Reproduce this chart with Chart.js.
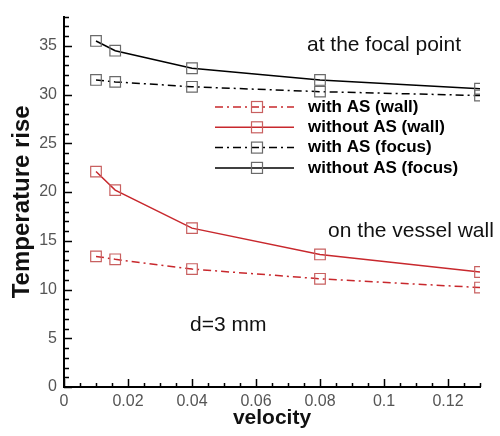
<!DOCTYPE html>
<html>
<head>
<meta charset="utf-8">
<title>Temperature rise vs velocity</title>
<script src="https://cdn.jsdelivr.net/npm/chart.js"></script>
<style>
  body { margin: 0; background: #fff; }
</style>
</head>
<body>
<canvas id="chart" width="500" height="436"></canvas>
<script>
// values
const velocity = [0.01, 0.016, 0.04, 0.08, 0.13];
const withAsWall = [13.4, 13.1, 12.1, 11.1, 10.2];
const withoutAsWall = [22.1, 20.2, 16.3, 13.6, 11.8];
const withAsFocus = [31.5, 31.3, 30.8, 30.3, 29.9];
const withoutAsFocus = [35.5, 34.5, 32.7, 31.5, 30.6];
const seriesNames = ['with AS (wall)', 'without AS (wall)', 'with AS (focus)', 'without AS (focus)'];
const xTicks = [0, 0.02, 0.04, 0.06, 0.08, 0.1, 0.12];
const yTicks = [0, 5, 10, 15, 20, 25, 30, 35];

const RED = '#c8282d';
const RED_MARK = '#c86060';
const BLACK = '#000';
const GRAY_MARK = '#6a6a6a';
const DASHDOT = [8, 4, 2, 4];
const FONT = '"Liberation Sans", Arial, sans-serif';

function pts(ys) {
  return velocity.map((v, i) => ({ x: v, y: ys[i] }));
}

function series(label, ys, color, markColor, dash) {
  return {
    label: label,
    data: pts(ys),
    borderColor: color,
    borderWidth: 1.5,
    borderDash: dash,
    pointStyle: 'rect',
    pointRadius: 7.5,
    pointBorderColor: markColor,
    pointBackgroundColor: 'rgba(0,0,0,0)',
    pointBorderWidth: 1.2,
    tension: 0,
    fill: false
  };
}

// ticks pointing into the plot, major + minor
const inwardTicks = {
  id: 'inwardTicks',
  afterDraw(chart) {
    const ctx = chart.ctx;
    const x = chart.scales.x, y = chart.scales.y;
    ctx.save();
    ctx.strokeStyle = '#000';
    ctx.lineWidth = 1.5;
    ctx.beginPath();
    for (let i = 0; i <= 26; i++) {
      const px = Math.round(x.getPixelForValue(i * 0.005)) + 0.5;
      const len = i % 4 === 0 ? 8 : 4;
      ctx.moveTo(px, y.bottom);
      ctx.lineTo(px, y.bottom - len);
    }
    for (let i = 0; i <= 38; i++) {
      const py = Math.round(y.getPixelForValue(i)) + 0.5;
      const len = i % 5 === 0 ? 8 : 5;
      ctx.moveTo(x.left, py);
      ctx.lineTo(x.left + len, py);
    }
    ctx.stroke();
    ctx.restore();
  }
};

// legend inside the plot and text notes
const notes = {
  id: 'notes',
  afterDraw(chart) {
    const ctx = chart.ctx;
    ctx.save();
    chart.data.datasets.forEach((ds, i) => {
      const yy = 107 + i * 20.3;
      ctx.strokeStyle = ds.borderColor;
      ctx.lineWidth = 1.5;
      ctx.setLineDash(ds.borderDash || []);
      ctx.beginPath();
      ctx.moveTo(215, yy);
      ctx.lineTo(294, yy);
      ctx.stroke();
      ctx.setLineDash([]);
      ctx.strokeStyle = ds.pointBorderColor;
      ctx.lineWidth = 1.2;
      ctx.strokeRect(251.5, yy - 5.5, 11, 11);
      ctx.fillStyle = '#000';
      ctx.font = 'bold 17px ' + FONT;
      ctx.textBaseline = 'middle';
      ctx.textAlign = 'left';
      ctx.fillText(ds.label, 308, yy);
    });
    ctx.font = '21px ' + FONT;
    ctx.fillStyle = '#111';
    ctx.textBaseline = 'middle';
    ctx.textAlign = 'center';
    ctx.fillText('at the focal point', 384, 45);
    ctx.fillText('on the vessel wall', 411, 231);
    ctx.textAlign = 'left';
    ctx.fillText('d=3 mm', 190, 325);
    ctx.restore();
  }
};

const tickFont = { family: FONT, size: 16 };

new Chart(document.getElementById('chart').getContext('2d'), {
  type: 'line',
  data: {
    datasets: [
      series(seriesNames[0], withAsWall, RED, RED_MARK, DASHDOT),
      series(seriesNames[1], withoutAsWall, RED, RED_MARK, []),
      series(seriesNames[2], withAsFocus, BLACK, GRAY_MARK, DASHDOT),
      series(seriesNames[3], withoutAsFocus, BLACK, GRAY_MARK, [])
    ]
  },
  options: {
    responsive: false,
    animation: false,
    layout: { padding: { top: 7, right: 20, left: 0, bottom: 0 } },
    plugins: {
      legend: { display: false },
      tooltip: { enabled: false }
    },
    scales: {
      x: {
        type: 'linear',
        min: 0,
        max: 0.13,
        afterBuildTicks: s => { s.ticks = xTicks.map(v => ({ value: v })); },
        afterFit: s => { s.height = 49; },
        grid: { display: false, drawTicks: false },
        border: { display: true, color: '#000', width: 2 },
        ticks: {
          font: tickFont,
          color: '#555',
          padding: 5,
          maxRotation: 0,
          callback: v => String(Math.round(v * 100) / 100)
        },
        title: {
          display: true,
          text: 'velocity',
          font: { family: FONT, size: 21, weight: 'bold' },
          color: '#111',
          padding: { top: 5, bottom: 5 }
        }
      },
      y: {
        min: 0,
        max: 38,
        afterBuildTicks: s => { s.ticks = yTicks.map(v => ({ value: v })); },
        afterFit: s => { s.width = 64; },
        grid: { display: false, drawTicks: false },
        border: { display: true, color: '#000', width: 2 },
        ticks: {
          font: tickFont,
          color: '#555',
          padding: 7
        },
        title: {
          display: true,
          text: 'Temperature rise',
          font: { family: FONT, size: 24, weight: 'bold' },
          color: '#111',
          padding: { top: 8, bottom: 8 }
        }
      }
    }
  },
  plugins: [inwardTicks, notes]
});
</script>
</body>
</html>
